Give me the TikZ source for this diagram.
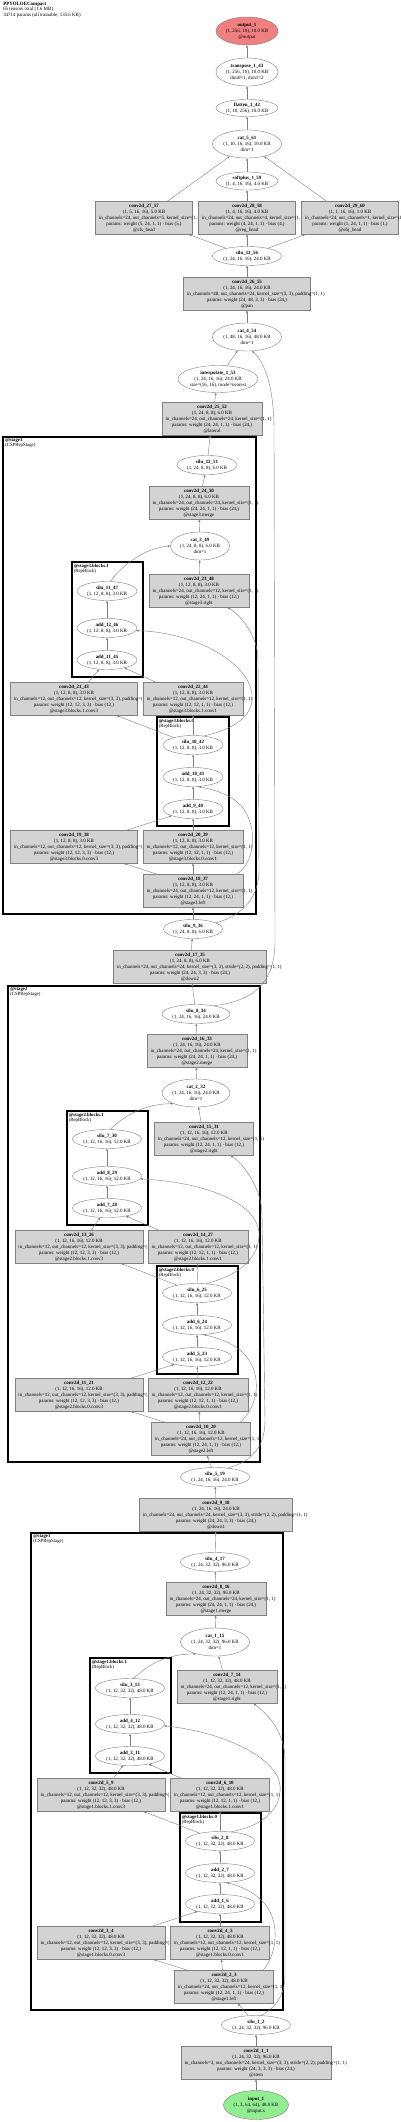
\documentclass[tikz,border=0pt]{standalone}
\usepackage{fontspec}
\setmainfont{Liberation Serif}
\usetikzlibrary{arrows.meta,shapes.geometric}
\definecolor{layerfill}{HTML}{D3D3D3}
\definecolor{outfill}{HTML}{F08080}
\definecolor{infill}{HTML}{90EE90}
\definecolor{wiregray}{HTML}{808080}

\begin{document}
\begin{tikzpicture}[x=0.75pt,y=-0.75pt,>={Triangle[length=1.8pt,width=1.5pt]},
  font=\fontsize{3.7}{4.5}\selectfont,line cap=round,
  op/.style={ellipse,draw=wiregray,line width=0.3pt,fill=white,inner sep=0pt,align=center,minimum height=14.25pt},
  op3/.style={op,minimum height=21pt},
  layer/.style={rectangle,draw=wiregray,line width=0.3pt,fill=layerfill,inner sep=0pt,align=center,minimum height=24.5pt},
  link/.style={->,wiregray,line width=0.3pt},
  stagebox/.style={draw=black,line width=1pt},
  blockbox/.style={draw=black,line width=0.8pt},
  grouplabel/.style={anchor=north west,inner sep=0pt,align=left,font=\fontsize{3.6}{3.75}\selectfont}]
\fill[white] (0,0) rectangle (400,2122);
\useasboundingbox (0,0) rectangle (400,2122);

% summary
\node[grouplabel,font=\fontsize{3.7}{3.3}\selectfont] (summary) at (3,1.5) {\textbf{PPYOLOECompact}\\65 tensors total (1.6 MB)\\34714 params (all trainable, 135.6 KB)};

% clusters
\draw[stagebox] (3,437) rectangle (256,914);
\node[grouplabel] (stage3_tag) at (5,438.5) {\textbf{@stage3}\\(CSPRepStage)};
\draw[blockbox] (72,562) rectangle (143,677);
\node[grouplabel] (stage3_b1_tag) at (73.5,563.5) {\textbf{@stage3.blocks.1}\\(RepBlock)};
\draw[blockbox] (157,717) rectangle (229,826);
\node[grouplabel] (stage3_b0_tag) at (158.5,718.5) {\textbf{@stage3.blocks.0}\\(RepBlock)};
\draw[stagebox] (8,986) rectangle (260,1462);
\node[grouplabel] (stage2_tag) at (10,987.5) {\textbf{@stage2}\\(CSPRepStage)};
\draw[blockbox] (67,1111) rectangle (148,1225);
\node[grouplabel] (stage2_b1_tag) at (68.5,1112.5) {\textbf{@stage2.blocks.1}\\(RepBlock)};
\draw[blockbox] (157,1266) rectangle (238,1374);
\node[grouplabel] (stage2_b0_tag) at (158.5,1267.5) {\textbf{@stage2.blocks.0}\\(RepBlock)};
\draw[stagebox] (31,1533) rectangle (283,2010);
\node[grouplabel] (stage1_tag) at (33,1534.5) {\textbf{@stage1}\\(CSPRepStage)};
\draw[blockbox] (90,1658) rectangle (171,1773);
\node[grouplabel] (stage1_b1_tag) at (91.5,1659.5) {\textbf{@stage1.blocks.1}\\(RepBlock)};
\draw[blockbox] (180,1813) rectangle (261,1922);
\node[grouplabel] (stage1_b0_tag) at (181.5,1814.5) {\textbf{@stage1.blocks.0}\\(RepBlock)};

% head
\node[op3,fill=outfill,minimum width=46.5pt] (output_1) at (247,31) {\textbf{output\_1}\\(1, 256, 10), 10.0 KB\\@output};
\node[op3,minimum width=46.5pt] (transpose_1_43) at (247,72) {\textbf{transpose\_1\_43}\\(1, 256, 10), 10.0 KB\\dim0=1, dim1=2};
\node[op,minimum width=46.5pt,minimum height=12.75pt] (flatten_1_42) at (247,108) {\textbf{flatten\_1\_42}\\(1, 10, 256), 10.0 KB};
\node[op3,minimum width=51.75pt] (cat_5_61) at (247,144) {\textbf{cat\_5\_61}\\(1, 10, 16, 16), 10.0 KB\\dim=1};
\node[op,minimum width=46.5pt,minimum height=13.5pt] (softplus_1_59) at (247,181) {\textbf{softplus\_1\_59}\\(1, 4, 16, 16), 4.0 KB};
\node[layer,minimum width=72.75pt] (conv2d_27_57) at (144,218) {\textbf{conv2d\_27\_57}\\(1, 5, 16, 16), 5.0 KB\\\makebox[67.5pt][l]{in\_channels=24, out\_channels=5, kernel\_size=(1, 1)}\\params: weight (5, 24, 1, 1) · bias (5,)\\@cls\_head};
\node[layer,minimum width=72.75pt] (conv2d_28_58) at (247,218) {\textbf{conv2d\_28\_58}\\(1, 4, 16, 16), 4.0 KB\\\makebox[67.5pt][l]{in\_channels=24, out\_channels=4, kernel\_size=(1, 1)}\\params: weight (4, 24, 1, 1) · bias (4,)\\@reg\_head};
\node[layer,minimum width=72.75pt] (conv2d_29_60) at (350,218) {\textbf{conv2d\_29\_60}\\(1, 1, 16, 16), 1.0 KB\\\makebox[67.5pt][l]{in\_channels=24, out\_channels=1, kernel\_size=(1, 1)}\\params: weight (1, 24, 1, 1) · bias (1,)\\@obj\_head};
\node[op,minimum width=51.75pt] (silu_13_56) at (247,256) {\textbf{silu\_13\_56}\\(1, 24, 16, 16), 24.0 KB};
\node[layer,minimum width=95.25pt] (conv2d_26_55) at (247,294) {\textbf{conv2d\_26\_55}\\(1, 24, 16, 16), 24.0 KB\\\makebox[90pt][l]{in\_channels=48, out\_channels=24, kernel\_size=(3, 3), padding=(1, 1)}\\params: weight (24, 48, 3, 3) · bias (24,)\\@pan};
\node[op3,minimum width=51.75pt] (cat_4_54) at (247,337) {\textbf{cat\_4\_54}\\(1, 48, 16, 16), 48.0 KB\\dim=1};
\node[op3,minimum width=60pt,minimum height=20.25pt] (interpolate_1_53) at (218,379) {\textbf{interpolate\_1\_53}\\(1, 24, 16, 16), 24.0 KB\\size=(16, 16), mode=nearest};
\node[layer,minimum width=75pt] (conv2d_25_52) at (212,419) {\textbf{conv2d\_25\_52}\\(1, 24, 8, 8), 6.0 KB\\\makebox[69.75pt][l]{in\_channels=24, out\_channels=24, kernel\_size=(1, 1)}\\params: weight (24, 24, 1, 1) · bias (24,)\\@lateral};

% stage3
\node[op,minimum width=45pt] (silu_12_51) at (207,465) {\textbf{silu\_12\_51}\\(1, 24, 8, 8), 6.0 KB};
\node[layer,minimum width=75pt] (conv2d_24_50) at (199,503) {\textbf{conv2d\_24\_50}\\(1, 24, 8, 8), 6.0 KB\\\makebox[69.75pt][l]{in\_channels=24, out\_channels=24, kernel\_size=(1, 1)}\\params: weight (24, 24, 1, 1) · bias (24,)\\@stage3.merge};
\node[op3,minimum width=44.25pt] (cat_3_49) at (200,546) {\textbf{cat\_3\_49}\\(1, 24, 8, 8), 6.0 KB\\dim=1};
\node[op,minimum width=45pt] (silu_11_47) at (107,591) {\textbf{silu\_11\_47}\\(1, 12, 8, 8), 3.0 KB};
\node[op,minimum width=45pt] (add_12_46) at (107,628) {\textbf{add\_12\_46}\\(1, 12, 8, 8), 3.0 KB};
\node[op,minimum width=45pt] (add_11_45) at (107,660) {\textbf{add\_11\_45}\\(1, 12, 8, 8), 3.0 KB};
\node[layer,minimum width=75pt] (conv2d_23_48) at (199,591) {\textbf{conv2d\_23\_48}\\(1, 12, 8, 8), 3.0 KB\\\makebox[69.75pt][l]{in\_channels=24, out\_channels=12, kernel\_size=(1, 1)}\\params: weight (12, 24, 1, 1) · bias (12,)\\@stage3.right};
\node[layer,minimum width=95.25pt] (conv2d_21_43) at (74,699) {\textbf{conv2d\_21\_43}\\(1, 12, 8, 8), 3.0 KB\\\makebox[90pt][l]{in\_channels=12, out\_channels=12, kernel\_size=(3, 3), padding=(1, 1)}\\params: weight (12, 12, 3, 3) · bias (12,)\\@stage3.blocks.1.conv3};
\node[layer,minimum width=75pt] (conv2d_22_44) at (193,699) {\textbf{conv2d\_22\_44}\\(1, 12, 8, 8), 3.0 KB\\\makebox[69.75pt][l]{in\_channels=12, out\_channels=12, kernel\_size=(1, 1)}\\params: weight (12, 12, 1, 1) · bias (12,)\\@stage3.blocks.1.conv1};
\node[op,minimum width=45pt] (silu_10_42) at (193,745) {\textbf{silu\_10\_42}\\(1, 12, 8, 8), 3.0 KB};
\node[op,minimum width=45pt] (add_10_41) at (193,777) {\textbf{add\_10\_41}\\(1, 12, 8, 8), 3.0 KB};
\node[op,minimum width=45pt] (add_9_40) at (193,809) {\textbf{add\_9\_40}\\(1, 12, 8, 8), 3.0 KB};
\node[layer,minimum width=95.25pt] (conv2d_19_38) at (74,847) {\textbf{conv2d\_19\_38}\\(1, 12, 8, 8), 3.0 KB\\\makebox[90pt][l]{in\_channels=12, out\_channels=12, kernel\_size=(3, 3), padding=(1, 1)}\\params: weight (12, 12, 3, 3) · bias (12,)\\@stage3.blocks.0.conv3};
\node[layer,minimum width=75pt] (conv2d_20_39) at (193,847) {\textbf{conv2d\_20\_39}\\(1, 12, 8, 8), 3.0 KB\\\makebox[69.75pt][l]{in\_channels=12, out\_channels=12, kernel\_size=(1, 1)}\\params: weight (12, 12, 1, 1) · bias (12,)\\@stage3.blocks.0.conv1};
\node[layer,minimum width=75pt] (conv2d_18_37) at (193,891) {\textbf{conv2d\_18\_37}\\(1, 12, 8, 8), 3.0 KB\\\makebox[69.75pt][l]{in\_channels=24, out\_channels=12, kernel\_size=(1, 1)}\\params: weight (12, 24, 1, 1) · bias (12,)\\@stage3.left};
\node[op,minimum width=44.25pt] (silu_9_36) at (193,929) {\textbf{silu\_9\_36}\\(1, 24, 8, 8), 6.0 KB};
\node[layer,minimum width=114.75pt] (conv2d_17_35) at (190,967) {\textbf{conv2d\_17\_35}\\(1, 24, 8, 8), 6.0 KB\\\makebox[109.5pt][l]{in\_channels=24, out\_channels=24, kernel\_size=(3, 3), stride=(2, 2), padding=(1, 1)}\\params: weight (24, 24, 3, 3) · bias (24,)\\@down2};

% stage2
\node[op,minimum width=51pt] (silu_8_34) at (196,1014) {\textbf{silu\_8\_34}\\(1, 24, 16, 16), 24.0 KB};
\node[layer,minimum width=75pt] (conv2d_16_33) at (197,1051) {\textbf{conv2d\_16\_33}\\(1, 24, 16, 16), 24.0 KB\\\makebox[69.75pt][l]{in\_channels=24, out\_channels=24, kernel\_size=(1, 1)}\\params: weight (24, 24, 1, 1) · bias (24,)\\@stage2.merge};
\node[op3,minimum width=51pt] (cat_2_32) at (196,1093) {\textbf{cat\_2\_32}\\(1, 24, 16, 16), 24.0 KB\\dim=1};
\node[op,minimum width=51.75pt] (silu_7_30) at (107,1139) {\textbf{silu\_7\_30}\\(1, 12, 16, 16), 12.0 KB};
\node[op,minimum width=51.75pt] (add_8_29) at (107,1176) {\textbf{add\_8\_29}\\(1, 12, 16, 16), 12.0 KB};
\node[op,minimum width=51.75pt] (add_7_28) at (107,1208) {\textbf{add\_7\_28}\\(1, 12, 16, 16), 12.0 KB};
\node[layer,minimum width=74.25pt] (conv2d_15_31) at (204,1139) {\textbf{conv2d\_15\_31}\\(1, 12, 16, 16), 12.0 KB\\\makebox[69pt][l]{in\_channels=24, out\_channels=12, kernel\_size=(1, 1)}\\params: weight (12, 24, 1, 1) · bias (12,)\\@stage2.right};
\node[layer,minimum width=96pt] (conv2d_13_26) at (79,1247) {\textbf{conv2d\_13\_26}\\(1, 12, 16, 16), 12.0 KB\\\makebox[90.75pt][l]{in\_channels=12, out\_channels=12, kernel\_size=(3, 3), padding=(1, 1)}\\params: weight (12, 12, 3, 3) · bias (12,)\\@stage2.blocks.1.conv3};
\node[layer,minimum width=75pt] (conv2d_14_27) at (198,1247) {\textbf{conv2d\_14\_27}\\(1, 12, 16, 16), 12.0 KB\\\makebox[69.75pt][l]{in\_channels=12, out\_channels=12, kernel\_size=(1, 1)}\\params: weight (12, 12, 1, 1) · bias (12,)\\@stage2.blocks.1.conv1};
\node[op,minimum width=51.75pt] (silu_6_25) at (197,1293) {\textbf{silu\_6\_25}\\(1, 12, 16, 16), 12.0 KB};
\node[op,minimum width=51.75pt] (add_6_24) at (197,1325) {\textbf{add\_6\_24}\\(1, 12, 16, 16), 12.0 KB};
\node[op,minimum width=51.75pt] (add_5_23) at (197,1357) {\textbf{add\_5\_23}\\(1, 12, 16, 16), 12.0 KB};
\node[layer,minimum width=96pt] (conv2d_11_21) at (79,1395) {\textbf{conv2d\_11\_21}\\(1, 12, 16, 16), 12.0 KB\\\makebox[90.75pt][l]{in\_channels=12, out\_channels=12, kernel\_size=(3, 3), padding=(1, 1)}\\params: weight (12, 12, 3, 3) · bias (12,)\\@stage2.blocks.0.conv3};
\node[layer,minimum width=75pt] (conv2d_12_22) at (198,1395) {\textbf{conv2d\_12\_22}\\(1, 12, 16, 16), 12.0 KB\\\makebox[69.75pt][l]{in\_channels=12, out\_channels=12, kernel\_size=(1, 1)}\\params: weight (12, 12, 1, 1) · bias (12,)\\@stage2.blocks.0.conv1};
\node[layer,minimum width=74.25pt] (conv2d_10_20) at (201,1439) {\textbf{conv2d\_10\_20}\\(1, 12, 16, 16), 12.0 KB\\\makebox[69pt][l]{in\_channels=24, out\_channels=12, kernel\_size=(1, 1)}\\params: weight (12, 24, 1, 1) · bias (12,)\\@stage2.left};
\node[op,minimum width=51.75pt] (silu_5_19) at (215,1477) {\textbf{silu\_5\_19}\\(1, 24, 16, 16), 24.0 KB};
\node[layer,minimum width=114.75pt] (conv2d_9_18) at (216,1515) {\textbf{conv2d\_9\_18}\\(1, 24, 16, 16), 24.0 KB\\\makebox[109.5pt][l]{in\_channels=24, out\_channels=24, kernel\_size=(3, 3), stride=(2, 2), padding=(1, 1)}\\params: weight (24, 24, 3, 3) · bias (24,)\\@down1};

% stage1
\node[op,minimum width=51.75pt] (silu_4_17) at (215,1562) {\textbf{silu\_4\_17}\\(1, 24, 32, 32), 96.0 KB};
\node[layer,minimum width=75pt] (conv2d_8_16) at (216,1599) {\textbf{conv2d\_8\_16}\\(1, 24, 32, 32), 96.0 KB\\\makebox[69.75pt][l]{in\_channels=24, out\_channels=24, kernel\_size=(1, 1)}\\params: weight (24, 24, 1, 1) · bias (24,)\\@stage1.merge};
\node[op3,minimum width=51.75pt] (cat_1_15) at (215,1642) {\textbf{cat\_1\_15}\\(1, 24, 32, 32), 96.0 KB\\dim=1};
\node[op,minimum width=51.75pt] (silu_3_13) at (130,1688) {\textbf{silu\_3\_13}\\(1, 12, 32, 32), 48.0 KB};
\node[op,minimum width=51.75pt] (add_4_12) at (130,1724) {\textbf{add\_4\_12}\\(1, 12, 32, 32), 48.0 KB};
\node[op,minimum width=51.75pt] (add_3_11) at (130,1756) {\textbf{add\_3\_11}\\(1, 12, 32, 32), 48.0 KB};
\node[layer,minimum width=75pt] (conv2d_7_14) at (227,1687) {\textbf{conv2d\_7\_14}\\(1, 12, 32, 32), 48.0 KB\\\makebox[69.75pt][l]{in\_channels=24, out\_channels=12, kernel\_size=(1, 1)}\\params: weight (12, 24, 1, 1) · bias (12,)\\@stage1.right};
\node[layer,minimum width=96pt] (conv2d_5_9) at (101,1795) {\textbf{conv2d\_5\_9}\\(1, 12, 32, 32), 48.0 KB\\\makebox[90.75pt][l]{in\_channels=12, out\_channels=12, kernel\_size=(3, 3), padding=(1, 1)}\\params: weight (12, 12, 3, 3) · bias (12,)\\@stage1.blocks.1.conv3};
\node[layer,minimum width=74.25pt] (conv2d_6_10) at (220,1795) {\textbf{conv2d\_6\_10}\\(1, 12, 32, 32), 48.0 KB\\\makebox[69pt][l]{in\_channels=12, out\_channels=12, kernel\_size=(1, 1)}\\params: weight (12, 12, 1, 1) · bias (12,)\\@stage1.blocks.1.conv1};
\node[op,minimum width=51.75pt] (silu_2_8) at (220,1841) {\textbf{silu\_2\_8}\\(1, 12, 32, 32), 48.0 KB};
\node[op,minimum width=51.75pt] (add_2_7) at (220,1873) {\textbf{add\_2\_7}\\(1, 12, 32, 32), 48.0 KB};
\node[op,minimum width=51.75pt] (add_1_6) at (220,1904) {\textbf{add\_1\_6}\\(1, 12, 32, 32), 48.0 KB};
\node[layer,minimum width=96pt] (conv2d_3_4) at (101,1943) {\textbf{conv2d\_3\_4}\\(1, 12, 32, 32), 48.0 KB\\\makebox[90.75pt][l]{in\_channels=12, out\_channels=12, kernel\_size=(3, 3), padding=(1, 1)}\\params: weight (12, 12, 3, 3) · bias (12,)\\@stage1.blocks.0.conv3};
\node[layer,minimum width=74.25pt] (conv2d_4_5) at (220,1943) {\textbf{conv2d\_4\_5}\\(1, 12, 32, 32), 48.0 KB\\\makebox[69pt][l]{in\_channels=12, out\_channels=12, kernel\_size=(1, 1)}\\params: weight (12, 12, 1, 1) · bias (12,)\\@stage1.blocks.0.conv1};
\node[layer,minimum width=74.25pt] (conv2d_2_3) at (224,1987) {\textbf{conv2d\_2\_3}\\(1, 12, 32, 32), 48.0 KB\\\makebox[69pt][l]{in\_channels=24, out\_channels=12, kernel\_size=(1, 1)}\\params: weight (12, 24, 1, 1) · bias (12,)\\@stage1.left};

% stem
\node[op,minimum width=51.75pt] (silu_1_2) at (256,2025) {\textbf{silu\_1\_2}\\(1, 24, 32, 32), 96.0 KB};
\node[layer,minimum width=112.5pt] (conv2d_1_1) at (256,2063) {\textbf{conv2d\_1\_1}\\(1, 24, 32, 32), 96.0 KB\\\makebox[107.25pt][l]{in\_channels=3, out\_channels=24, kernel\_size=(3, 3), stride=(2, 2), padding=(1, 1)}\\params: weight (24, 3, 3, 3) · bias (24,)\\@stem};
\node[op3,fill=infill,minimum width=48.75pt,minimum height=21.75pt] (input_1) at (256,2105) {\textbf{input\_1}\\(1, 3, 64, 64), 48.0 KB\\@input.x};

% straight links
\draw[link] (transpose_1_43) -- (output_1);
\draw[link] (flatten_1_42) -- (transpose_1_43);
\draw[link] (cat_5_61) -- (flatten_1_42);
\draw[link] (conv2d_27_57) -- (cat_5_61);
\draw[link] (softplus_1_59) -- (cat_5_61);
\draw[link] (conv2d_29_60) -- (cat_5_61);
\draw[link] (conv2d_28_58) -- (softplus_1_59);
\draw[link] (silu_13_56) -- (conv2d_27_57);
\draw[link] (silu_13_56) -- (conv2d_28_58);
\draw[link] (silu_13_56) -- (conv2d_29_60);
\draw[link] (conv2d_26_55) -- (silu_13_56);
\draw[link] (cat_4_54) -- (conv2d_26_55);
\draw[link] (interpolate_1_53) -- (cat_4_54);
\draw[link] (conv2d_25_52) -- (interpolate_1_53);
\draw[link] (silu_12_51) -- (conv2d_25_52);
\draw[link] (conv2d_24_50) -- (silu_12_51);
\draw[link] (cat_3_49) -- (conv2d_24_50);
\draw[link] (conv2d_23_48) -- (cat_3_49);
\draw[link] (add_12_46) -- (silu_11_47);
\draw[link] (add_11_45) -- (add_12_46);
\draw[link] (conv2d_21_43) -- (add_11_45);
\draw[link] (conv2d_22_44) -- (add_11_45);
\draw[link] (silu_10_42) -- (conv2d_21_43);
\draw[link] (silu_10_42) -- (conv2d_22_44);
\draw[link] (add_10_41) -- (silu_10_42);
\draw[link] (add_9_40) -- (add_10_41);
\draw[link] (conv2d_19_38) -- (add_9_40);
\draw[link] (conv2d_20_39) -- (add_9_40);
\draw[link] (conv2d_18_37.155) -- (conv2d_19_38);
\draw[link] (conv2d_18_37) -- (conv2d_20_39);
\draw[link] (silu_9_36) -- (conv2d_18_37);
\draw[link] (conv2d_17_35) -- (silu_9_36);
\draw[link] (silu_8_34) -- (conv2d_17_35);
\draw[link] (conv2d_16_33) -- (silu_8_34);
\draw[link] (cat_2_32) -- (conv2d_16_33);
\draw[link] (conv2d_15_31) -- (cat_2_32);
\draw[link] (add_8_29) -- (silu_7_30);
\draw[link] (add_7_28) -- (add_8_29);
\draw[link] (conv2d_13_26) -- (add_7_28);
\draw[link] (conv2d_14_27) -- (add_7_28);
\draw[link] (silu_6_25) -- (conv2d_13_26);
\draw[link] (silu_6_25) -- (conv2d_14_27);
\draw[link] (add_6_24) -- (silu_6_25);
\draw[link] (add_5_23) -- (add_6_24);
\draw[link] (conv2d_11_21) -- (add_5_23);
\draw[link] (conv2d_12_22) -- (add_5_23);
\draw[link] (conv2d_10_20.155) -- (conv2d_11_21);
\draw[link] (conv2d_10_20) -- (conv2d_12_22);
\draw[link] (silu_5_19) -- (conv2d_10_20);
\draw[link] (conv2d_9_18) -- (silu_5_19);
\draw[link] (silu_4_17) -- (conv2d_9_18);
\draw[link] (conv2d_8_16) -- (silu_4_17);
\draw[link] (cat_1_15) -- (conv2d_8_16);
\draw[link] (conv2d_7_14) -- (cat_1_15);
\draw[link] (add_4_12) -- (silu_3_13);
\draw[link] (add_3_11) -- (add_4_12);
\draw[link] (conv2d_5_9) -- (add_3_11);
\draw[link] (conv2d_6_10) -- (add_3_11);
\draw[link] (silu_2_8) -- (conv2d_5_9);
\draw[link] (silu_2_8) -- (conv2d_6_10);
\draw[link] (add_2_7) -- (silu_2_8);
\draw[link] (add_1_6) -- (add_2_7);
\draw[link] (conv2d_3_4) -- (add_1_6);
\draw[link] (conv2d_4_5) -- (add_1_6);
\draw[link] (conv2d_2_3.155) -- (conv2d_3_4);
\draw[link] (conv2d_2_3) -- (conv2d_4_5);
\draw[link] (silu_1_2) -- (conv2d_2_3);
\draw[link] (conv2d_1_1) -- (silu_1_2);
\draw[link] (input_1) -- (conv2d_1_1);

% curved links
\draw[link] (silu_11_47.70) .. controls (122,565) and (145,548) .. (cat_3_49.180);
\draw[link] (silu_7_30.72) .. controls (125,1115) and (145,1104) .. (cat_2_32.205);
\draw[link] (silu_3_13.70) .. controls (150,1663) and (168,1654) .. (cat_1_15.212);
\draw[link] (silu_8_34.25) .. controls (262,1000) and (275,975) .. (275,940) -- (274,430) .. controls (274,385) and (264,362) .. (cat_4_54.-70);
\draw[link] (silu_9_36.15) .. controls (245,915) and (259,895) .. (259,870) -- (258,660) .. controls (258,635) and (240,615) .. (conv2d_23_48.-30);
\draw[link] (silu_10_42.40) .. controls (240,728) and (254,712) .. (252,695) .. controls (250,665) and (200,633) .. (add_12_46.-5);
\draw[link] (conv2d_18_37.21) .. controls (252,865) and (256,840) .. (250,822) .. controls (243,800) and (225,792) .. (add_10_41.-60);
\draw[link] (silu_5_19.35) .. controls (258,1460) and (265,1440) .. (265,1420) -- (262,1215) .. controls (262,1190) and (245,1165) .. (conv2d_15_31.-32);
\draw[link] (silu_6_25.45) .. controls (250,1272) and (260,1250) .. (259,1232) .. controls (255,1200) and (200,1182) .. (add_8_29.-5);
\draw[link] (conv2d_10_20.23) .. controls (252,1412) and (258,1395) .. (256,1380) .. controls (253,1355) and (235,1342) .. (add_6_24.-55);
\draw[link] (silu_1_2.60) .. controls (280,2005) and (285,1990) .. (285,1975) -- (285,1760) .. controls (285,1730) and (265,1712) .. (conv2d_7_14.-32);
\draw[link] (silu_2_8.40) .. controls (268,1825) and (282,1805) .. (280,1785) .. controls (277,1760) and (230,1733) .. (add_4_12.-3);
\draw[link] (conv2d_2_3.23) .. controls (272,1960) and (276,1945) .. (275,1930) .. controls (273,1905) and (255,1890) .. (add_2_7.-55);
\end{tikzpicture}
\end{document}
